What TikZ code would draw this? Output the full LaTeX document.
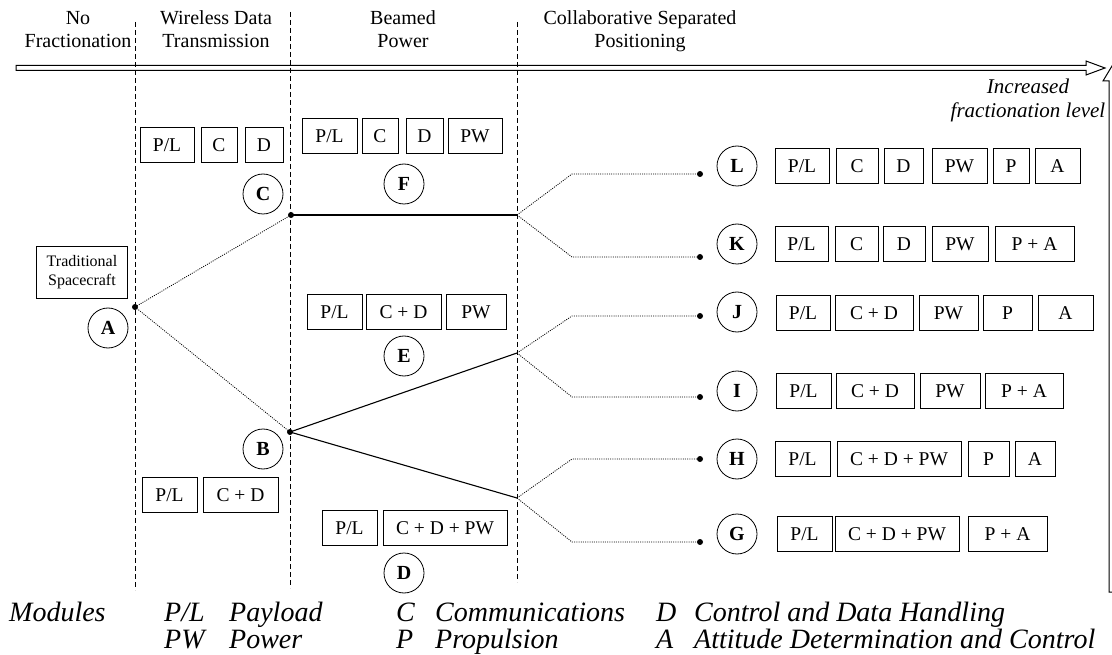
\documentclass[tikz,border=0pt]{standalone}
\usepackage{fontspec}
\setmainfont{Liberation Serif}
% a module box given by its name, left edge, right edge, centre height and label
\newcommand\modbox[5]{%
  \node[modbox, minimum width={(#3)-(#2)}] (#1) at ({((#2)+(#3))/2},#4) {#5};}
\begin{document}
\begin{tikzpicture}[x=1pt,y=-1pt,
  modbox/.style={draw, line width=0.8pt, minimum height=35pt, inner sep=0pt,
    font=\fontsize{19.5}{19.5}\selectfont},
  tag/.style={circle, draw, line width=0.8pt, minimum size=40pt, inner sep=0pt,
    font=\fontsize{20}{20}\selectfont\bfseries},
  pt/.style={circle, fill, inner sep=0pt, minimum size=6pt},
  head/.style={anchor=base, inner sep=0pt, font=\fontsize{20}{20}\selectfont},
  sep/.style={dash pattern=on 5pt off 3pt, line width=0.8pt},
  branch/.style={dash pattern=on 1pt off 1.2pt, line width=0.8pt},
  link/.style={line width=1.1pt},
  leg/.style={anchor=base west, inner sep=0pt, font=\fontsize{28}{28}\selectfont\itshape},
]
\useasboundingbox (0,0) rectangle (1112,655);
\clip (0,0) rectangle (1112,655);

% phase headings, one node per line
\node[head] (h1a) at (78,25) {No};
\node[head] (h1b) at (78,48) {Fractionation};
\node[head] (h2a) at (216,25) {Wireless Data};
\node[head] (h2b) at (216,48) {Transmission};
\node[head] (h3a) at (403,25) {Beamed};
\node[head] (h3b) at (403,48) {Power};
\node[head] (h4a) at (640,25) {Collaborative Separated};
\node[head] (h4b) at (640,48) {Positioning};

% phase separators
\draw[sep] (135,22) -- (135,590);
\draw[sep] (290,12) -- (290,588);
\draw[sep] (517,22) -- (517,582);

% horizontal hollow arrow
\draw[line width=1pt, line join=miter]
  (16,65.5) -- (1086,65.5) -- (1086,61) -- (1105,68) -- (1086,75)
  -- (1086,70.5) -- (16,70.5) -- cycle;
% vertical hollow arrow at the right edge
\draw[line width=1pt, line join=miter]
  (1109,592) -- (1109,81) -- (1103,81) -- (1112,66) -- (1121,81)
  -- (1115,81) -- (1115,592) -- cycle;
\node[align=center, font=\fontsize{21}{24}\selectfont\itshape] (lvl) at (1028,100)
  {Increased\\fractionation level};

% traditional spacecraft
\node[draw, line width=0.8pt, align=center, minimum width=91pt, minimum height=52pt,
  inner sep=0pt, font=\fontsize{16}{19}\selectfont] (trad) at (82,272)
  {Traditional\\Spacecraft};
\node[pt] (pA) at (135,307) {};
\node[tag] (A) at (108,328) {A};

% architecture C
\modbox{c1}{140}{194}{145}{P/L}
\modbox{c2}{201}{237}{145}{C}
\modbox{c3}{245}{283}{145}{D}
\node[tag] (C) at (263,194) {C};
\node[pt] (pC) at (291,215) {};

% architecture B
\modbox{b1}{142}{197}{495}{P/L}
\modbox{b2}{203}{278}{495}{C + D}
\node[tag] (B) at (263,449) {B};
\node[pt] (pB) at (290,432) {};

% architecture F
\modbox{f1}{302}{357}{136}{P/L}
\modbox{f2}{362}{398}{136}{C}
\modbox{f3}{406}{443}{136}{D}
\modbox{f4}{448}{502}{136}{PW}
\node[tag] (F) at (404,184) {F};

% architecture E
\modbox{e1}{307}{362}{312}{P/L}
\modbox{e2}{366}{441}{312}{C + D}
\modbox{e3}{446}{506}{312}{PW}
\node[tag] (E) at (404,356) {E};

% architecture D
\modbox{d1}{322}{377}{528}{P/L}
\modbox{d2}{383}{507}{528}{C + D + PW}
\node[tag] (D) at (404,573) {D};

% branch points on the last separator
\coordinate (j1) at (517,215);
\coordinate (j2) at (517,353);
\coordinate (j3) at (517,498);

% architectures L to G
\node[tag] (L) at (737,166) {L};
\node[pt] (pL) at (700,174) {};
\modbox{l1}{775}{829}{166}{P/L}
\modbox{l2}{836}{878}{166}{C}
\modbox{l3}{884}{923}{166}{D}
\modbox{l4}{932}{987}{166}{PW}
\modbox{l5}{993}{1029}{166}{P}
\modbox{l6}{1035}{1080}{166}{A}

\node[tag] (K) at (737,244) {K};
\node[pt] (pK) at (700,257) {};
\modbox{k1}{775}{828}{244}{P/L}
\modbox{k2}{835}{878}{244}{C}
\modbox{k3}{883}{925}{244}{D}
\modbox{k4}{932}{988}{244}{PW}
\modbox{k5}{995}{1074}{244}{P + A}

\node[tag] (J) at (737,312) {J};
\node[pt] (pJ) at (700,316) {};
\modbox{j1x}{776}{830}{313}{P/L}
\modbox{j2x}{835}{913}{313}{C + D}
\modbox{j3x}{919}{978}{313}{PW}
\modbox{j4x}{983}{1032}{313}{P}
\modbox{j5x}{1038}{1093}{313}{A}

\node[tag] (I) at (737,391) {I};
\node[pt] (pI) at (700,397) {};
\modbox{i1}{776}{831}{391}{P/L}
\modbox{i2}{836}{914}{391}{C + D}
\modbox{i3}{920}{980}{391}{PW}
\modbox{i4}{985}{1063}{391}{P + A}

\node[tag] (H) at (737,459) {H};
\node[pt] (pH) at (700,459) {};
\modbox{hh1}{775}{830}{459}{P/L}
\modbox{hh2}{837}{961}{459}{C + D + PW}
\modbox{hh3}{968}{1009}{459}{P}
\modbox{hh4}{1015}{1055}{459}{A}

\node[tag] (G) at (737,534) {G};
\node[pt] (pG) at (700,542) {};
\modbox{g1}{777}{832}{534}{P/L}
\modbox{g2}{835}{959}{534}{C + D + PW}
\modbox{g3}{968}{1047}{534}{P + A}

% connectors
\draw[branch] (pA.center) -- (pC.center);
\draw[branch] (pA.center) -- (pB.center);
\draw[link] (pC.center) -- (j1);
\draw[link] (pB.center) -- (j2);
\draw[link] (pB.center) -- (j3);
\draw[branch] (j1) -- (572,174) -- (pL.center);
\draw[branch] (j1) -- (572,257) -- (pK.center);
\draw[branch] (j2) -- (572,316) -- (pJ.center);
\draw[branch] (j2) -- (572,397) -- (pI.center);
\draw[branch] (j3) -- (572,459) -- (pH.center);
\draw[branch] (j3) -- (572,542) -- (pG.center);

% key to the module names
\node[leg] (k0) at (9,621) {Modules};
\node[leg] (k1) at (164,621) {P/L};
\node[leg] (k2) at (229,621) {Payload};
\node[leg] (k3) at (396,621) {C};
\node[leg] (k4) at (435,621) {Communications};
\node[leg] (k5) at (656,621) {D};
\node[leg] (k6) at (694,621) {Control and Data Handling};
\node[leg] (k7) at (164,648) {PW};
\node[leg] (k8) at (229,648) {Power};
\node[leg] (k9) at (396,648) {P};
\node[leg] (k10) at (435,648) {Propulsion};
\node[leg] (k11) at (656,648) {A};
\node[leg] (k12) at (694,648) {Attitude Determination and Control};
\end{tikzpicture}
\end{document}
